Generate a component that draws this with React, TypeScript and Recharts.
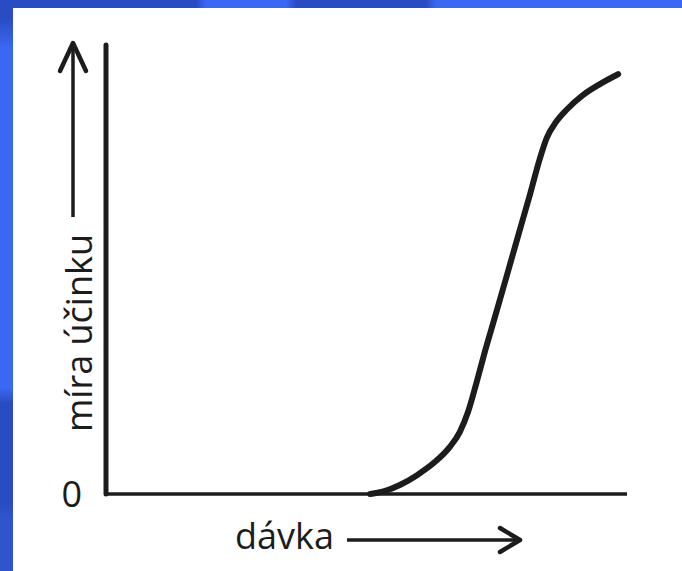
import React from 'react';
import { Label, Line, LineChart, XAxis, YAxis } from 'recharts';

// dose (x) vs. effect (y), both on a 0–100 scale
const dose = [50.7, 53.6, 56.4, 59.7, 63.1, 66.0, 67.9, 69.5, 71.0, 72.7, 74.7, 76.8, 79.1, 81.4, 83.3, 84.6, 86.4, 88.5, 91.6, 94.8, 98.3];
const effect = [0, 0.7, 2.0, 4.2, 7.1, 10.5, 13.8, 18.3, 24.3, 31.6, 39.6, 48.1, 57.5, 66.8, 74.8, 79.3, 82.9, 85.7, 88.9, 91.3, 93.5];
const yTicks = [0];
const xTitle = 'dávka';
const yTitle = 'míra účinku';

const data = dose.map((x, i) => ({ x, y: effect[i] }));

const INK = '#1c1c1c';
const FONT = '"Open Sans", sans-serif';

function XTitle({ viewBox }: any) {
  const { x, y } = viewBox;
  const ay = y + 46;
  const x0 = x + 241;
  const x1 = x + 414;
  return (
    <g>
      <text x={x + 129} y={y + 55} fontFamily={FONT} fontSize={36} fontWeight={500} fill={INK}>
        {xTitle}
      </text>
      <line x1={x0} y1={ay} x2={x1 - 4} y2={ay} stroke={INK} strokeWidth={3.5} />
      <path
        d={`M${x1 - 20},${ay - 12} L${x1},${ay} L${x1 - 20},${ay + 12}`}
        fill="none"
        stroke={INK}
        strokeWidth={4.5}
        strokeLinejoin="round"
        strokeLinecap="round"
      />
    </g>
  );
}

function YTitle({ viewBox }: any) {
  const { x, y, height } = viewBox;
  const tx = x + 92;
  const ty = y + height - 62;
  const ax = x + 73;
  const top = y - 2;
  return (
    <g>
      <text
        x={tx}
        y={ty}
        transform={`rotate(-90, ${tx}, ${ty})`}
        fontFamily={FONT}
        fontSize={36}
        fontWeight={500}
        fill={INK}
      >
        {yTitle}
      </text>
      <line x1={ax} y1={y + 172} x2={ax} y2={top + 4} stroke={INK} strokeWidth={3.5} />
      <path
        d={`M${ax - 13},${top + 28} L${ax},${top} L${ax + 13},${top + 28}`}
        fill="none"
        stroke={INK}
        strokeWidth={4.5}
        strokeLinejoin="round"
        strokeLinecap="round"
      />
    </g>
  );
}

export default function App() {
  return (
    <div
      style={{
        position: 'absolute',
        left: 0,
        top: 0,
        width: 682,
        height: 571,
        overflow: 'hidden',
        background:
          'linear-gradient(to right, #2a4cc2 0px, #2a4cc2 196px, #3b68f2 206px, #3b68f2 286px, #2a4cc2 296px, #2a4cc2 426px, #3b68f2 436px, #3b68f2 682px)',
      }}
    >
      <div
        style={{
          position: 'absolute',
          left: 0,
          top: 8,
          width: 13,
          height: 563,
          background:
            'linear-gradient(to bottom, #2a4cc2 0px, #2a4cc2 10px, #3b68f2 40px, #3b68f2 380px, #2a4cc2 395px, #2a4cc2 495px, #2f55cc 510px)',
        }}
      />
      <div
        style={{
          position: 'absolute',
          left: 13,
          top: 8,
          width: 669,
          height: 563,
          background: '#ffffff',
        }}
      />
      <div style={{ position: 'absolute', left: 0, top: 0 }}>
        <LineChart
          width={682}
          height={571}
          data={data}
          margin={{ top: 45, right: 55, bottom: 0, left: 0 }}
        >
          <XAxis
            type="number"
            dataKey="x"
            domain={[0, 100]}
            tick={false}
            tickLine={false}
            height={77}
            axisLine={{ stroke: INK, strokeWidth: 3.5 }}
          >
            <Label content={XTitle} />
          </XAxis>
          <YAxis
            type="number"
            dataKey="y"
            domain={[0, 100]}
            ticks={yTicks}
            width={106}
            tickLine={false}
            tickMargin={18}
            tick={{ fontFamily: FONT, fontSize: 36, fontWeight: 500, fill: INK }}
            axisLine={{ stroke: INK, strokeWidth: 5, strokeLinecap: 'round' }}
          >
            <Label content={YTitle} />
          </YAxis>
          <Line
            type="monotone"
            dataKey="y"
            stroke={INK}
            strokeWidth={6}
            strokeLinecap="round"
            dot={false}
            isAnimationActive={false}
          />
        </LineChart>
      </div>
    </div>
  );
}
